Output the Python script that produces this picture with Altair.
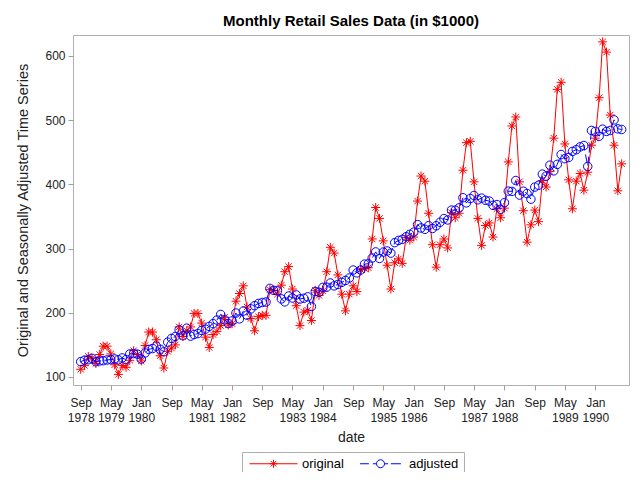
import altair as alt
import pandas as pd

# ---------------- data ----------------
start_month = "1978-09-01"

original = [
    112, 118, 132, 129, 121, 135, 148, 148, 136, 119, 104, 118,
    115, 126, 141, 135, 125, 149, 170, 170, 158, 133, 114, 140,
    145, 150, 178, 163, 172, 178, 199, 199, 184, 162, 146, 166,
    171, 180, 193, 181, 183, 218, 230, 242, 209, 191, 172, 194,
    196, 196, 236, 235, 229, 243, 264, 272, 237, 211, 180, 201,
    204, 188, 235, 227, 234, 264, 302, 293, 259, 229, 203, 229,
    242, 233, 267, 269, 270, 315, 364, 347, 312, 274, 237, 278,
    284, 277, 317, 313, 318, 374, 413, 405, 355, 306, 271, 306,
    315, 301, 356, 348, 355, 422, 465, 467, 404, 347, 305, 336,
    340, 318, 362, 348, 363, 435, 491, 505, 404, 359, 310, 337,
    360, 342, 406, 396, 420, 472, 548, 559, 463, 407, 362, 405,
    417, 391, 419, 461, 472, 535, 622, 606, 508, 461, 390, 432,
]

adjusted = [
    123.8, 126.2, 126.9, 129.0, 123.8, 125.0, 125.4, 126.5, 127.1, 128.0, 126.8, 129.7,
    127.0, 135.9, 136.4, 135.6, 127.9, 137.4, 143.0, 144.3, 147.9, 143.1, 139.3, 154.2,
    160.1, 163.1, 173.3, 164.3, 176.0, 163.6, 166.1, 167.7, 172.5, 174.5, 178.8, 183.1,
    188.7, 197.4, 189.1, 183.3, 187.3, 199.6, 190.5, 202.6, 196.3, 206.0, 211.1, 214.5,
    216.1, 216.8, 238.0, 235.0, 234.4, 221.6, 217.0, 226.1, 223.0, 227.8, 221.5, 222.6,
    224.8, 209.7, 233.1, 231.8, 239.5, 239.9, 246.4, 241.9, 244.1, 247.4, 250.3, 254.2,
    266.6, 262.2, 266.6, 275.8, 276.4, 285.2, 294.8, 284.6, 294.6, 296.3, 292.9, 309.2,
    312.7, 314.4, 318.5, 322.2, 325.5, 337.3, 332.1, 330.0, 335.7, 331.3, 335.6, 341.0,
    346.7, 344.6, 360.0, 359.8, 363.4, 379.2, 371.2, 378.0, 382.7, 376.0, 378.6, 375.2,
    374.0, 367.3, 368.5, 361.3, 371.5, 389.5, 389.1, 406.0, 383.4, 389.4, 385.7, 377.0,
    395.8, 398.6, 416.0, 412.9, 429.9, 421.1, 431.2, 446.5, 440.1, 441.9, 451.4, 454.0,
    458.5, 460.5, 428.0, 484.0, 482.5, 475.0, 486.0, 482.5, 484.0, 500.5, 486.5, 485.5,
]

series_names = ["original", "adjusted"]
series_colors = ["#ff0000", "#0000ff"]

y_ticks = [100, 200, 300, 400, 500, 600]

x_tick_dates = [
    "1978-09-01", "1979-05-01", "1980-01-01", "1980-09-01", "1981-05-01",
    "1982-01-01", "1982-09-01", "1983-05-01", "1984-01-01", "1984-09-01",
    "1985-05-01", "1986-01-01", "1986-09-01", "1987-05-01", "1988-01-01",
    "1988-09-01", "1989-05-01", "1990-01-01",
]
x_tick_months = ["Sep", "May", "Jan", "Sep", "May", "Jan", "Sep", "May", "Jan",
                 "Sep", "May", "Jan", "Sep", "May", "Jan", "Sep", "May", "Jan"]
x_tick_years = ["1978", "1979", "1980", "", "1981", "1982", "", "1983", "1984",
                "", "1985", "1986", "", "1987", "1988", "", "1989", "1990"]

x_domain = ["1978-07-01", "1990-09-29"]
y_domain = [87.5, 632.7]

# ---------------- helpers ----------------
def dt(s):
    y, m, d = (int(p) for p in s.split("-"))
    return alt.DateTime(year=y, month=m, date=d, utc=True)

dates = pd.date_range(start_month, periods=len(original), freq="MS").strftime("%Y-%m-%d")
orig_df = pd.DataFrame({"date": dates, "value": original})
adj_df = pd.DataFrame({"date": dates, "value": adjusted})
long_df = pd.concat([orig_df.assign(series="original"),
                     adj_df.assign(series="adjusted")], ignore_index=True)

label_map = ", ".join(
    f"'{d}': ['{m}', '{y}']" for d, m, y in zip(x_tick_dates, x_tick_months, x_tick_years)
)
label_expr = "{" + label_map + "}[utcFormat(datum.value, '%Y-%m-%d')]"

FONT = "Liberation Sans"
RED, BLUE = series_colors
TEXT = "#222222"

ASTER = "M0,-1L0,1M-1,0L1,0M-0.7,-0.7L0.7,0.7M-0.7,0.7L0.7,-0.7"
CIRC = ("M1,0L0.924,0.383L0.707,0.707L0.383,0.924L0,1L-0.383,0.924L-0.707,0.707"
        "L-0.924,0.383L-1,0L-0.924,-0.383L-0.707,-0.707L-0.383,-0.924L0,-1"
        "L0.383,-0.924L0.707,-0.707L0.924,-0.383Z")
LEG_ORIG = "M-6,0L6,0" + ASTER
LEG_ADJ = "M-5.1,0L-2.9,0M-1.9,0L-1,0M1,0L1.9,0M2.6,0L5.1,0" + CIRC

x_enc = alt.X(
    "date:T",
    scale=alt.Scale(type="utc", domain=[dt(x_domain[0]), dt(x_domain[1])]),
    axis=alt.Axis(
        values=[dt(d) for d in x_tick_dates],
        labelExpr=label_expr,
        title="date",
        grid=False,
        domain=False,
        tickColor="#a0a0a0",
        tickSize=5,
        labelPadding=7,
        labelFont=FONT,
        labelFontSize=12,
        labelColor=TEXT,
        labelLineHeight=15,
        labelBaseline="top",
        titleFont=FONT,
        titleFontSize=14,
        titleFontWeight="normal",
        titleColor=TEXT,
        titlePadding=7,
    ),
)
y_enc = alt.Y(
    "value:Q",
    scale=alt.Scale(domain=y_domain, nice=False, zero=False),
    axis=alt.Axis(
        values=y_ticks,
        title="Original and Seasonally Adjusted Time Series",
        grid=False,
        domain=False,
        tickColor="#a0a0a0",
        tickSize=5,
        labelPadding=3,
        labelFont=FONT,
        labelFontSize=12,
        labelColor=TEXT,
        titleFont=FONT,
        titleFontSize=14.5,
        titleFontWeight="normal",
        titleColor=TEXT,
        titlePadding=14,
    ),
)

orig_line = alt.Chart(orig_df).mark_line(color=RED, strokeWidth=1).encode(x=x_enc, y=y_enc)
orig_pts = alt.Chart(orig_df).mark_point(
    shape=ASTER, size=81, filled=False, color=RED, strokeWidth=1, opacity=1
).encode(x=x_enc, y=y_enc)
adj_line = alt.Chart(adj_df).mark_line(
    color=BLUE, strokeWidth=1, strokeDash=[9, 4]
).encode(x=x_enc, y=y_enc)
adj_pts = alt.Chart(adj_df).mark_point(
    shape="circle", size=72, filled=False, color=BLUE, strokeWidth=1, opacity=1
).encode(x=x_enc, y=y_enc)

legend_kw = dict(
    title=None, orient="none", legendX=169, legendY=417, direction="horizontal",
    symbolSize=64, symbolStrokeWidth=1, symbolOffset=20, labelOffset=22,
    columnPadding=10, padding=5, strokeColor="#b0b0b0", fillColor="white",
    labelFontSize=13, labelFont=FONT, labelColor="black", symbolOpacity=1,
    labelBaseline="middle",
)
carrier = alt.Chart(long_df).mark_point(opacity=0, filled=False, strokeWidth=1).encode(
    x=x_enc, y=y_enc,
    color=alt.Color("series:N", scale=alt.Scale(domain=series_names, range=series_colors),
                    legend=alt.Legend(**legend_kw)),
    shape=alt.Shape("series:N", scale=alt.Scale(domain=series_names, range=[LEG_ORIG, LEG_ADJ]),
                    legend=alt.Legend(**legend_kw)),
)

chart = (
    alt.layer(orig_line, orig_pts, adj_line, adj_pts, carrier)
    .properties(
        width=556, height=350,
        background="white",
        autosize=alt.AutoSizeParams(type="none"),
        padding={"left": 65, "top": 27, "right": 3, "bottom": 87},
        title=alt.TitleParams(
            "Monthly Retail Sales Data (in $1000)", fontSize=15, fontWeight="bold",
            font=FONT, anchor="middle", frame="group", baseline="alphabetic", offset=9,
            dy=15, color="black",
        ),
    )
    .configure_view(stroke="#b0b0b0", strokeWidth=1)
)

chart.save("out.html", embed_options={"renderer": "svg", "actions": False})
